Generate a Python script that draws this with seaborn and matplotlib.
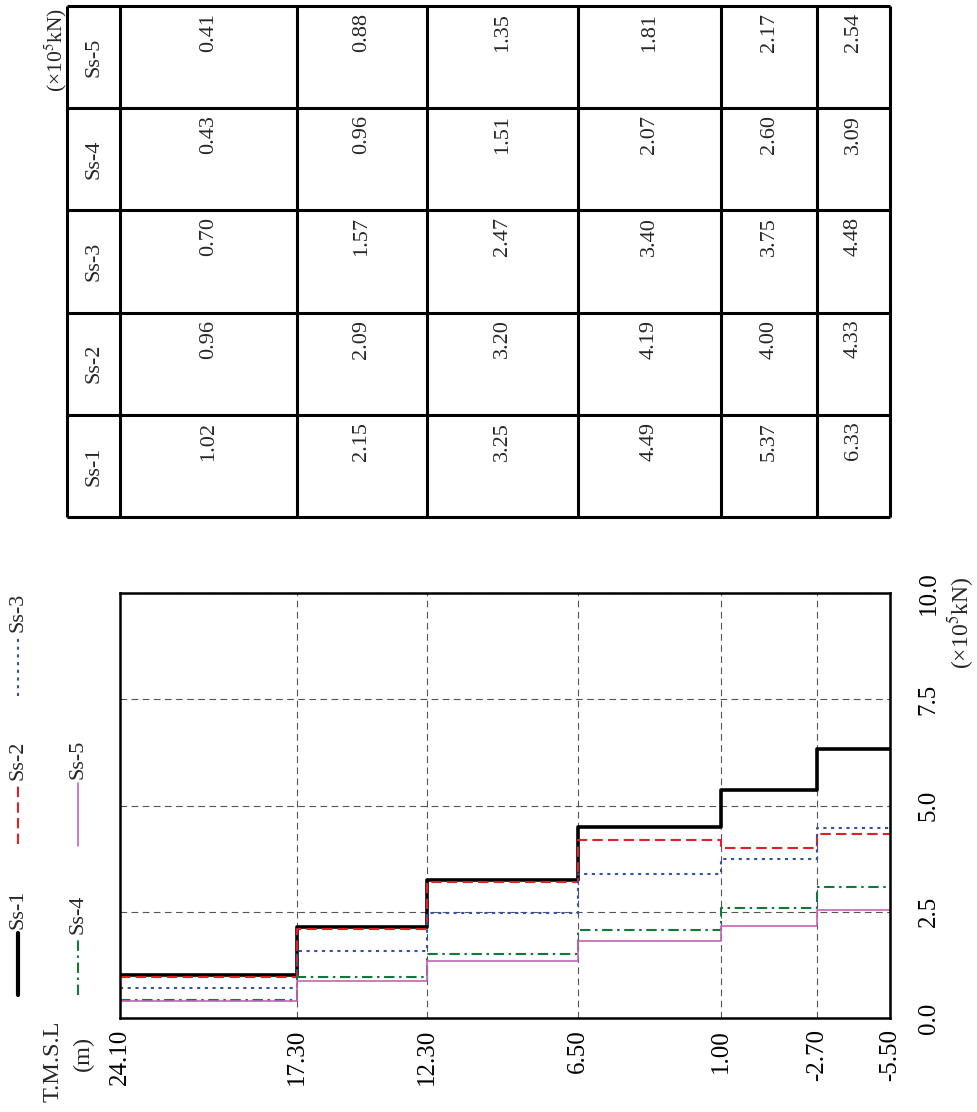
import numpy as np
import pandas as pd
import matplotlib
matplotlib.use("Agg")
import matplotlib.pyplot as plt
import seaborn as sns

# Niveaux (T.M.S.L, m) et efforts par tranche (x10^5 kN)
niveaux = [24.10, 17.30, 12.30, 6.50, 1.00, -2.70, -5.50]
cas = ["Ss-1", "Ss-2", "Ss-3", "Ss-4", "Ss-5"]
ss1 = [1.02, 2.15, 3.25, 4.49, 5.37, 6.33]
ss2 = [0.96, 2.09, 3.20, 4.19, 4.00, 4.33]
ss3 = [0.70, 1.57, 2.47, 3.40, 3.75, 4.48]
ss4 = [0.43, 0.96, 1.51, 2.07, 2.60, 3.09]
ss5 = [0.41, 0.88, 1.35, 1.81, 2.17, 2.54]
force_ticks = [0.0, 2.5, 5.0, 7.5, 10.0]
series = [ss1, ss2, ss3, ss4, ss5]

# Styles
couleurs = {"Ss-1": "black", "Ss-2": "#e41e26", "Ss-3": "#3550a5",
            "Ss-4": "#107a3c", "Ss-5": "#c563b3"}
tirets = {"Ss-1": "", "Ss-2": (5, 2.5), "Ss-3": (1.5, 2.2),
          "Ss-4": (5, 2.2, 1.2, 2.2), "Ss-5": ""}
epaisseurs = {"Ss-1": 2.6, "Ss-2": 1.5, "Ss-3": 1.5, "Ss-4": 1.5, "Ss-5": 1.2}

# Tableau long pour seaborn (escalier : dernière valeur répétée en fin)
lignes = []
for nom, vals in zip(cas, series):
    ys = vals + [vals[-1]]
    for x, y in zip(niveaux, ys):
        lignes.append({"niveau": x, "effort": y, "cas": nom})
df = pd.DataFrame(lignes)

sns.set_theme(style="white")
plt.rcParams["font.family"] = ["Liberation Serif", "DejaVu Serif"]
plt.rcParams["mathtext.fontset"] = "stix"

W, H = 978, 1112
fig = plt.figure(figsize=(W / 100, H / 100), dpi=100)

# Graphique principal
ax = fig.add_axes([120 / W, 1 - 1018 / H, 770 / W, 425 / H])
sns.lineplot(data=df, x="niveau", y="effort", hue="cas", style="cas", size="cas",
             palette=couleurs, dashes=tirets, sizes=epaisseurs,
             estimator=None, errorbar=None, sort=False, drawstyle="steps-post",
             legend=False, ax=ax)
ax.set_xlim(niveaux[0], niveaux[-1])
ax.set_ylim(force_ticks[0], force_ticks[-1])
ax.set_xticks(niveaux)
ax.set_xticklabels([f"{v:.2f}" for v in niveaux], rotation=90)
ax.yaxis.tick_right()
ax.set_yticks(force_ticks)
ax.set_yticklabels([f"{v:.1f}" for v in force_ticks], rotation=90, va="center")
ax.tick_params(axis="x", length=0, pad=8, labelsize=18, colors="black")
ax.tick_params(axis="y", length=0, pad=20, labelsize=18, colors="black")
ax.set_xlabel("")
ax.set_ylabel("")
ax.grid(True, color="#555555", linestyle=(0, (6, 4)), linewidth=0.8)
for sp in ax.spines.values():
    sp.set_visible(True)
    sp.set_color("black")
    sp.set_linewidth(1.8)

# Tableau des valeurs
px_par_m = (890 - 120) / (niveaux[0] - niveaux[-1])
hdr = (120 - 67) / px_par_m
tax = fig.add_axes([67 / W, 1 - 517 / H, (890 - 67) / W, (517 - 6) / H])
tax.set_xlim(niveaux[0] + hdr, niveaux[-1])
tax.set_ylim(0, len(cas))
tax.set_axis_off()
bords = [niveaux[0] + hdr] + niveaux
tax.vlines(bords, 0, len(cas), colors="black", linewidth=2.2, clip_on=False)
tax.hlines(range(len(cas) + 1), bords[0], niveaux[-1], colors="black",
           linewidth=2.2, clip_on=False)
for i, (nom, vals) in enumerate(zip(cas, series)):
    tax.text(niveaux[0] + hdr / 2, i + 0.5, nom, rotation=90,
             ha="center", va="center", fontsize=16)
    for j, v in enumerate(vals):
        xm = (niveaux[j] + niveaux[j + 1]) / 2
        tax.annotate(f"{v:.2f}", (xm, i + 1), xytext=(0, -5),
                     textcoords="offset points", rotation=90,
                     ha="center", va="top", fontsize=16)

# Légende et titres (repère en pixels)
ox = fig.add_axes([0, 0, 1, 1])
ox.set_xlim(0, W)
ox.set_ylim(H, 0)
ox.set_axis_off()
pos_legende = {"Ss-1": (18, 995, 933), "Ss-2": (18, 844, 784), "Ss-3": (18, 696, 636),
               "Ss-4": (78, 995, 938), "Ss-5": (78, 846, 783)}
for nom in cas:
    x, y0, y1 = pos_legende[nom]
    kw = dict(color=couleurs[nom], linewidth=epaisseurs[nom] + (0.4 if nom == "Ss-1" else 0))
    if tirets[nom]:
        kw["dashes"] = tirets[nom]
    ox.plot([x, x], [y0, y1], **kw)
    ox.text(x, y1 - 4, nom, rotation=90, ha="center", va="bottom", fontsize=16)

ox.text(53, 1020, "T.M.S.L", rotation=90, ha="center", va="top", fontsize=17.5)
ox.text(83, 1036, "(m)", rotation=90, ha="center", va="top", fontsize=17.5)
ox.text(56, 8, r"(×10$^5$kN)", rotation=90, ha="center", va="top", fontsize=15.5)
ox.text(961, 623, r"(×10$^5$kN)", rotation=90, ha="center", va="center", fontsize=17)

fig.savefig("out.png", dpi=100)
